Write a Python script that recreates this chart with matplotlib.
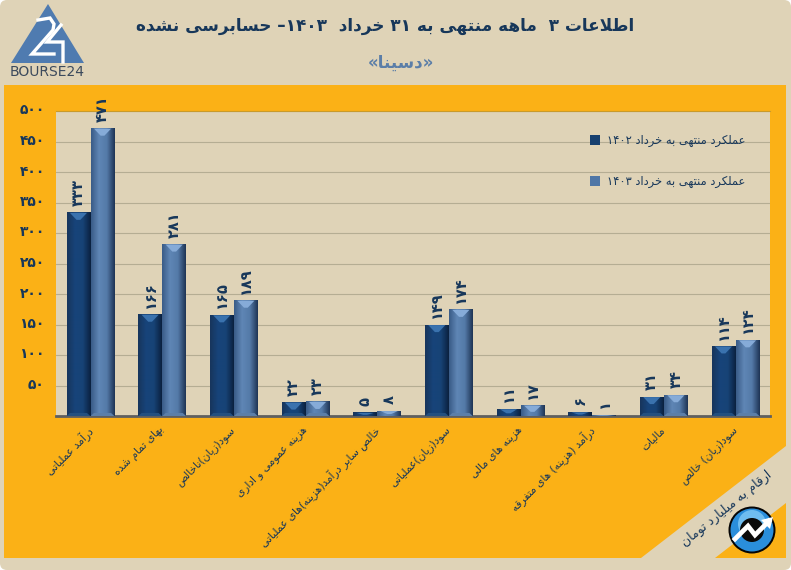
import numpy as np
import matplotlib
matplotlib.use("Agg")
import matplotlib.pyplot as plt
from matplotlib.colors import LinearSegmentedColormap
from matplotlib.patches import Circle, FancyBboxPatch, Polygon, Rectangle
from matplotlib.transforms import ScaledTranslation

categories = [
    "درآمد عملیاتی",
    "بهای تمام شده",
    "سود(زیان)ناخالص",
    "هزینه عمومی و اداری",
    "خالص سایر درآمد(هزینه)های عملیاتی",
    "سود(زیان)عملیاتی",
    "هزینه های مالی",
    "درآمد (هزینه) های متفرقه",
    "مالیات",
    "سود(زیان) خالص",
]
values_1402 = [333, 166, 165, 22, 5, 149, 11, 6, 31, 114]
values_1403 = [471, 281, 189, 23, 8, 174, 17, 1, 34, 124]
y_ticks = [50, 100, 150, 200, 250, 300, 350, 400, 450, 500]
legend_labels = ["عملکرد منتهی به خرداد ۱۴۰۲", "عملکرد منتهی به خرداد ۱۴۰۳"]
title = "اطلاعات ۳  ماهه منتهی به ۳۱ خرداد  ۱۴۰۳– حسابرسی نشده"
subtitle = "«دسینا»"
corner_note = "ارقام به میلیارد تومان"

BG = "#DFD3B7"
ORANGE = "#FBB116"
NAVY = "#17375A"

# matplotlib does not shape Arabic script, so pick the presentation forms here
FORMS = {
    "ا": (0xFE8D, 2), "آ": (0xFE81, 2), "ب": (0xFE8F, 4), "پ": (0xFB56, 4), "ت": (0xFE95, 4),
    "ث": (0xFE99, 4), "ج": (0xFE9D, 4), "چ": (0xFB7A, 4), "ح": (0xFEA1, 4), "خ": (0xFEA5, 4),
    "د": (0xFEA9, 2), "ذ": (0xFEAB, 2), "ر": (0xFEAD, 2), "ز": (0xFEAF, 2), "ژ": (0xFB8A, 2),
    "س": (0xFEB1, 4), "ش": (0xFEB5, 4), "ص": (0xFEB9, 4), "ض": (0xFEBD, 4), "ط": (0xFEC1, 4),
    "ظ": (0xFEC5, 4), "ع": (0xFEC9, 4), "غ": (0xFECD, 4), "ف": (0xFED1, 4), "ق": (0xFED5, 4),
    "ک": (0xFB8E, 4), "گ": (0xFB92, 4), "ل": (0xFEDD, 4), "م": (0xFEE1, 4), "ن": (0xFEE5, 4),
    "ه": (0xFEE9, 4), "و": (0xFEED, 2), "ی": (0xFBFC, 4),
}
MIRROR = {"(": ")", ")": "(", "«": "»", "»": "«"}


def shape(text):
    out = []
    i = 0
    joins = False
    while i < len(text):
        ch = text[i]
        if ch == "ل" and i + 1 < len(text) and text[i + 1] == "ا":
            out.append(chr(0xFEFC if joins else 0xFEFB))
            joins = False
            i += 2
            continue
        if ch not in FORMS:
            out.append(ch)
            joins = False
            i += 1
            continue
        start, count = FORMS[ch]
        next_ok = i + 1 < len(text) and text[i + 1] in FORMS and count == 4
        if count == 2:
            out.append(chr(start + (1 if joins else 0)))
        elif joins and next_ok:
            out.append(chr(start + 3))
        elif joins:
            out.append(chr(start + 1))
        elif next_ok:
            out.append(chr(start + 2))
        else:
            out.append(chr(start))
        joins = next_ok
        i += 1
    return out


def fa(text):
    # shaped letters right to left, digit runs stay in reading order
    chars = shape(text)[::-1]
    result = []
    run = []
    for ch in chars:
        if "۰" <= ch <= "۹":
            run.append(ch)
            continue
        result.extend(run[::-1])
        run = []
        result.append(MIRROR.get(ch, ch))
    result.extend(run[::-1])
    return "".join(result)


def fa_digits(value):
    return str(value).translate(str.maketrans("0123456789", "۰۱۲۳۴۵۶۷۸۹"))


def draw_bevels(ax, rects, cmap, chevron, bottom):
    px = 500 / 305
    for r in rects:
        x0, w, h = r.get_x(), r.get_width(), r.get_height()
        ax.imshow(np.linspace(0, 1, 48).reshape(1, -1), extent=(x0, x0 + w, 0, h),
                  cmap=cmap, aspect="auto", zorder=3)
        cx = x0 + w / 2
        ch = min(7 * px, h * 0.6)
        ax.add_patch(Polygon([(cx - w * 0.36, h), (cx + w * 0.36, h), (cx + w * 0.08, h - ch),
                              (cx - w * 0.08, h - ch)], color=chevron, lw=0, zorder=4))
        if h > 12 * px:
            ax.add_patch(Polygon([(x0 + w * 0.14, 3 * px), (x0 + w * 0.86, 3 * px), (x0 + w, 0), (x0, 0)],
                                 color=bottom, lw=0, zorder=4))


fig = plt.figure(figsize=(7.91, 5.70), dpi=100, facecolor="white")

# page furniture in pixel coordinates
bg = fig.add_axes([0, 0, 1, 1], zorder=0)
bg.set_xlim(0, 791)
bg.set_ylim(570, 0)
bg.axis("off")
bg.add_patch(FancyBboxPatch((0, 0), 791, 570, boxstyle="round,pad=0,rounding_size=7", fc=BG, ec="none"))
bg.add_patch(Rectangle((4, 85), 782, 473, fc=ORANGE, ec="none"))
bg.add_patch(Polygon([(641, 558), (786, 446), (786, 503), (715, 558)], fc=BG, ec="none"))

# logo
bg.add_patch(Polygon([(48, 4), (84, 63), (11, 63)], fc="#4F7BB0", ec="none"))
bg.plot([38, 50, 54, 53, 32, 54], [20, 18, 24, 30, 54, 54], color="white", lw=2.4, solid_joinstyle="miter")
bg.plot([61, 47, 63, 63], [25, 42, 42, 62], color="white", lw=2.4, solid_joinstyle="miter")
bg.text(47.5, 72.5, "BOURSE24", ha="center", va="center", fontsize=10, color="#3C4A5C")

bg.text(385.5, 26, fa(title), ha="center", va="center", fontsize=12.2, fontweight="bold", color=NAVY)
bg.text(401, 63, fa(subtitle), ha="center", va="center", fontsize=12, fontweight="bold", color="#5B7EA8")
bg.text(726, 509, fa(corner_note), ha="center", va="center", rotation=39, rotation_mode="anchor",
        fontsize=9, color=NAVY)

# round badge in the corner
bg.add_patch(Circle((752, 530), 23.5, fc="#050505", ec="none", zorder=5))
bg.add_patch(Circle((752, 530), 21.5, fc="#2A8EDB", ec="none", zorder=5))
bg.add_patch(Circle((752, 524), 14, fc="#6FBDF0", ec="none", zorder=5))
bg.add_patch(Circle((752, 530), 12, fc="#0A0A0A", ec="none", zorder=5))
bg.plot([735, 748, 755, 769], [539, 526, 535, 521], color="white", lw=3.4, zorder=6, solid_joinstyle="miter")
bg.add_patch(Polygon([(773, 517), (761, 520), (770, 529)], fc="white", ec="none", zorder=6))

ax = fig.add_axes([56 / 791, 1 - 416 / 570, (770 - 56) / 791, (416 - 111) / 570], zorder=1, facecolor=BG)

x = np.arange(len(categories))
rects_1402 = ax.bar(x - 0.168, values_1402, width=0.33, color="#17406F", zorder=3)
rects_1403 = ax.bar(x + 0.168, values_1403, width=0.33, color="#4F76A6", zorder=3)

cmap_dark = LinearSegmentedColormap.from_list("dark", ["#17355C", "#17447A", "#174376", "#0B2140"])
cmap_light = LinearSegmentedColormap.from_list("light", ["#3A5C88", "#5F86B5", "#547AA8", "#1F3556"])
draw_bevels(ax, rects_1402, cmap_dark, "#3A72AE", "#24507F")
draw_bevels(ax, rects_1403, cmap_light, "#86ABD8", "#5C7FA8")

for rects in (rects_1402, rects_1403):
    ax.bar_label(rects, labels=[fa_digits(v) for v in rects.datavalues], rotation=90, padding=5,
                 fontsize=10.5, fontweight="bold", color=NAVY, zorder=5)

ax.set_xlim(-0.481, 9.481)
ax.set_ylim(0, 500)
ax.set_yticks(y_ticks)
ax.set_yticklabels([fa_digits(t) for t in y_ticks], fontsize=10, fontweight="bold", color=NAVY)
ax.set_xticks(x)
ax.set_xticklabels([fa(c) for c in categories], rotation=45, ha="right", rotation_mode="anchor",
                   fontsize=7.7, color=NAVY)
ax.tick_params(axis="both", length=0)
ax.tick_params(axis="y", pad=8)
ax.tick_params(axis="x", pad=6)
for label in ax.get_yticklabels():
    label.set_transform(label.get_transform() + ScaledTranslation(0, 2 / 100, fig.dpi_scale_trans))
for label in ax.get_xticklabels():
    label.set_transform(label.get_transform() + ScaledTranslation(-4 / 100, 0, fig.dpi_scale_trans))
ax.grid(axis="y", color="#B5AD93", lw=0.8)
ax.set_axisbelow(True)
for side in ("left", "right"):
    ax.spines[side].set_visible(False)
ax.spines["top"].set_color("#C99A2A")
ax.spines["bottom"].set_color("#5F5F5F")
ax.spines["bottom"].set_linewidth(2)

ax.legend([rects_1402, rects_1403], [fa(t) for t in legend_labels], loc="upper left",
          bbox_to_anchor=((590 - 56) / 714, 1 - (134 - 111) / 305), frameon=False, fontsize=8.3,
          labelcolor=NAVY, labelspacing=2.4, handlelength=0.9, handleheight=0.9, handletextpad=0.6,
          borderpad=0, borderaxespad=0)

fig.savefig("out.png", dpi=100, facecolor=fig.get_facecolor())
